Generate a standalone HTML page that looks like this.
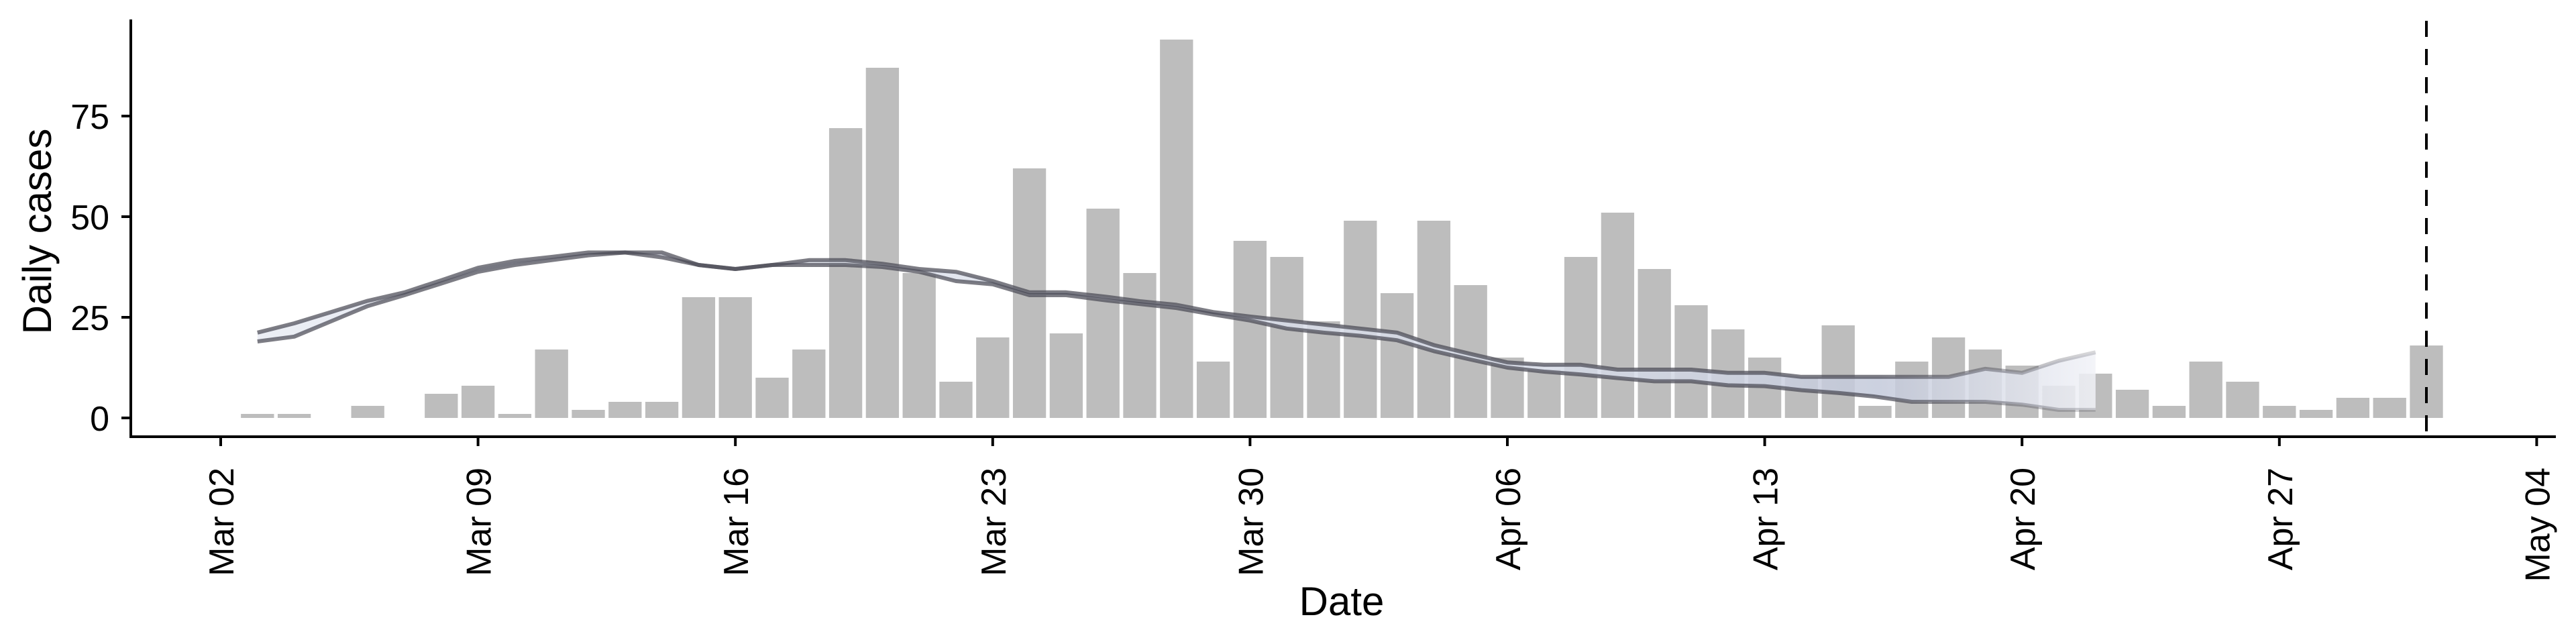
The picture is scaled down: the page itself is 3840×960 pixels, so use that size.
<!DOCTYPE html>
<html><head><meta charset="utf-8"><style>
html,body{margin:0;padding:0;background:#fff;}
svg{display:block;font-family:"Liberation Sans",Arial,sans-serif;}
</style></head><body>
<svg id="chart" width="3840" height="960" viewBox="0 0 3840 960" xmlns="http://www.w3.org/2000/svg">
<defs>
<linearGradient id="bandGrad" gradientUnits="userSpaceOnUse" x1="380" y1="0" x2="3130" y2="0">
<stop offset="0" stop-color="#e8ebf3"/>
<stop offset="0.75" stop-color="#d4d9e6"/>
<stop offset="0.88" stop-color="#c3c9da"/>
<stop offset="1" stop-color="#f2f3f8"/>
</linearGradient>
<linearGradient id="lineGrad" gradientUnits="userSpaceOnUse" x1="380" y1="0" x2="3130" y2="0">
<stop offset="0" stop-color="#4a4a55" stop-opacity="0.72"/>
<stop offset="0.88" stop-color="#4a4a55" stop-opacity="0.72"/>
<stop offset="1" stop-color="#4a4a55" stop-opacity="0.2"/>
</linearGradient>
</defs>
<g id="bars"></g>
<g id="band"></g>
<g id="axes"></g>
</svg>
<script>
// Data (day index: 0 = Mar 02)
const barStartDay = 1; // Mar 03
const dailyCases = [1,1,0,3,0,6,8,1,17,2,4,4,30,30,10,17,72,87,36,9,20,62,21,52,36,94,14,44,40,24,49,31,49,33,15,12,40,51,37,28,22,15,10,23,3,14,20,17,13,8,11,7,3,14,9,3,2,5,5,18];
const lineStartDay = 1;
const upperBound = [21.2,23.5,26.3,29.1,31.2,34.2,37.3,39,40,41.1,41.1,41.1,38,37,38,39.2,39.2,38.3,37,36.3,34,31.2,31.2,30.2,29,28.1,26.3,25.2,24.2,23.2,22.2,21.2,18.1,15.9,13.8,13.2,13.2,12,12,12,11.2,11.2,10.2,10.2,10.2,10.2,10.2,12.2,11.2,14.2,16.3];
const lowerBound = [19,20.2,24,27.8,30.5,33.4,36.3,38,39.2,40.4,41.1,39.9,38,37,38,38,38,37.5,36.3,34,33.2,30.5,30.5,29.3,28.3,27.3,25.7,24.2,22.2,21.2,20.4,19.3,16.6,14.5,12.5,11.5,10.8,9.9,9.1,9.1,8.1,7.9,6.9,6.2,5.3,4,4,4,3.3,2,2];
const yTicks = [0,25,50,75];
const xTickDays = [0,7,14,21,28,35,42,49,56,63];
const xTickLabels = ["Mar 02","Mar 09","Mar 16","Mar 23","Mar 30","Apr 06","Apr 13","Apr 20","Apr 27","May 04"];
const cutoffDay = 60;

const NS="http://www.w3.org/2000/svg";
const X0=329, DAY=54.8, Y0=623, UNIT=6.0;
function x(d){return X0+d*DAY;}
function y(v){return Y0-v*UNIT;}
function mk(tag,attrs,parent){const e=document.createElementNS(NS,tag);for(const k in attrs)e.setAttribute(k,attrs[k]);parent.appendChild(e);return e;}

const gb=document.getElementById('bars');
dailyCases.forEach((v,i)=>{
  const d=barStartDay+i, w=DAY*0.9;
  const r=mk('rect',{x:x(d)-w/2,y:y(v),width:w,height:Math.max(0,v*UNIT),fill:'#bdbdbd'},gb);
  
  
});

const gband=document.getElementById('band');
let pts=upperBound.map((v,i)=>x(lineStartDay+i)+','+y(v));
let ptsL=lowerBound.map((v,i)=>x(lineStartDay+i)+','+y(v));
const poly=mk('polygon',{points:pts.concat(ptsL.slice().reverse()).join(' '),fill:'url(#bandGrad)','fill-opacity':0.85},gband);


const lu=mk('polyline',{points:pts.join(' '),fill:'none',stroke:'url(#lineGrad)','stroke-width':6,'stroke-linejoin':'round'},gband);


const ll=mk('polyline',{points:ptsL.join(' '),fill:'none',stroke:'url(#lineGrad)','stroke-width':6,'stroke-linejoin':'round'},gband);



const ga=document.getElementById('axes');
const ya=mk('line',{x1:195,y1:29,x2:195,y2:653,stroke:'#000','stroke-width':4},ga);


const xa=mk('line',{x1:193,y1:651,x2:3810,y2:651,stroke:'#000','stroke-width':4},ga);


yTicks.forEach(v=>{
  const t=mk('line',{x1:181,y1:y(v),x2:195,y2:y(v),stroke:'#000','stroke-width':4},ga);
  
  
  const l=mk('text',{x:163,y:y(v)+19,'text-anchor':'end','font-size':52,fill:'#000'},ga);
  l.textContent=v;
  
  
});
xTickDays.forEach((d,i)=>{
  const t=mk('line',{x1:x(d),y1:651,x2:x(d),y2:665,stroke:'#000','stroke-width':4},ga);
  
  
  const l=mk('text',{x:0,y:0,'text-anchor':'end','font-size':52,fill:'#000',transform:'translate('+(x(d)+19)+',697) rotate(-90)'},ga);
  l.textContent=xTickLabels[i];
  
  
});
const cut=mk('line',{x1:x(cutoffDay),y1:31,x2:x(cutoffDay),y2:651,stroke:'#000','stroke-width':4,'stroke-dasharray':'24,18'},ga);


const yt=mk('text',{x:0,y:0,'text-anchor':'middle','font-size':60,fill:'#000',transform:'translate(76,345) rotate(-90)'},ga);
yt.textContent='Daily cases';


const xt=mk('text',{x:2000,y:917,'text-anchor':'middle','font-size':60,fill:'#000'},ga);
xt.textContent='Date';


</script>
</body></html>
